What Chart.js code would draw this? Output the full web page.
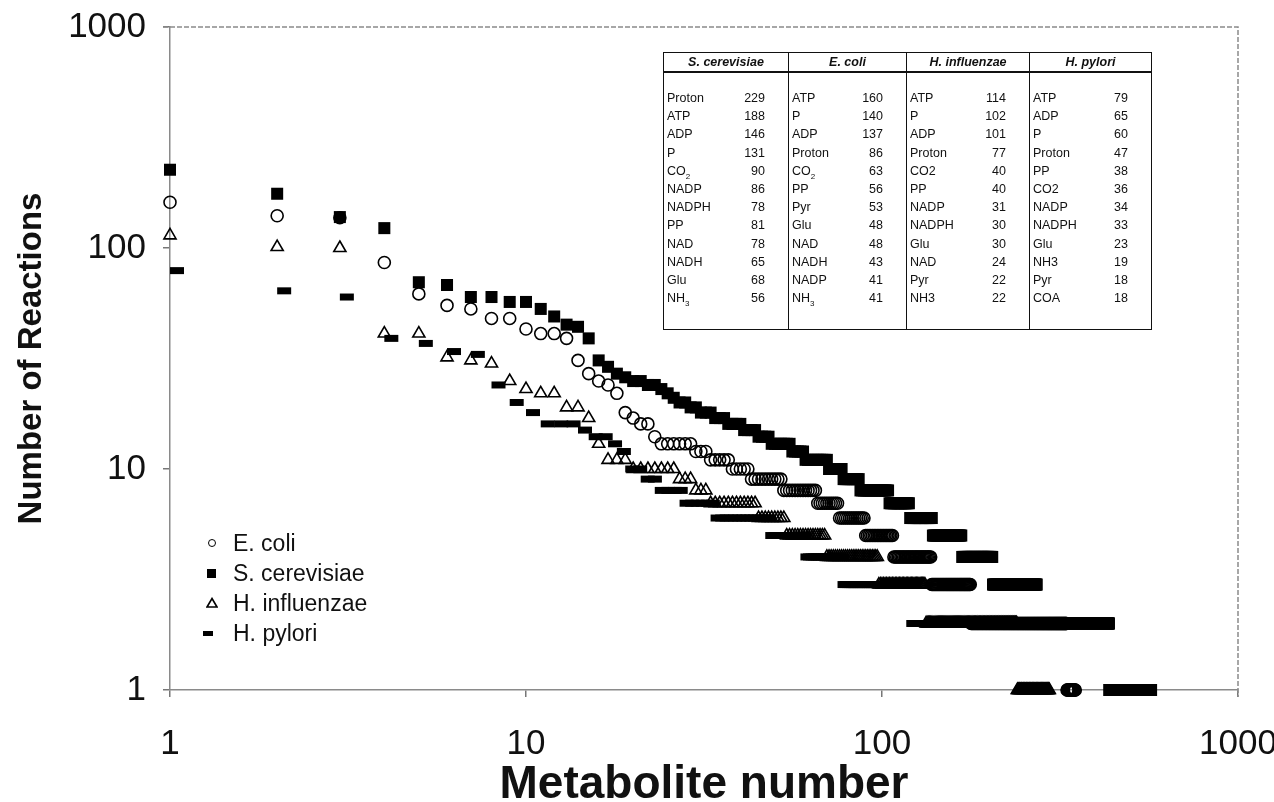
<!DOCTYPE html>
<html>
<head>
<meta charset="utf-8">
<title>Metabolite rank plot</title>
<script src="https://cdn.jsdelivr.net/npm/chart.js@4.4.0/dist/chart.umd.min.js"></script>
<style>
  body { margin: 0; background: #fff; font-family: "Liberation Sans", Arial, sans-serif; }
  #wrap { position: relative; width: 1274px; height: 802px; }
  #chart { position: absolute; left: 0; top: 0; }
  #legend { position: absolute; left: 200px; top: 528px; font-size: 23px; color: #111; }
  #legend .row { position: relative; height: 30px; line-height: 30px; padding-left: 33px; white-space: nowrap; }
  #legend .mk { position: absolute; }
  #legend .circle { left: 8px; top: 11px; width: 6px; height: 6px; border: 1.6px solid #000; border-radius: 50%; }
  #legend .square { left: 7px; top: 11px; width: 9px; height: 9px; background: #000; }
  #legend .tri { left: 6px; top: 9px; }
  #legend .dash { left: 3px; top: 13px; width: 10px; height: 5px; background: #000; }
  #table { position: absolute; left: 663px; top: 52px; width: 489px; height: 278px;
           border: 1.5px solid #111; box-sizing: border-box; font-size: 12.5px; color: #111; }
  #table .col { position: absolute; top: 0; bottom: 0; box-sizing: border-box; }
  #table .col + .col { border-left: 1.5px solid #111; }
  #table .head { height: 18px; line-height: 18px; text-align: center; font-weight: bold; font-style: italic;
                 border-bottom: 2.5px solid #111; }
  #table .body { padding-top: 16px; }
  #table .line { display: flex; justify-content: space-between; height: 18.2px; line-height: 18.2px;
                 padding: 0 23px 0 3px; }
  #table sub { font-size: 8px; line-height: 0; }
</style>
</head>
<body>
<div id="wrap">
  <canvas id="chart" width="1274" height="802"></canvas>
  <div id="table"></div>
  <div id="legend"></div>
</div>
<script>
// axis ticks
const xTicks = [1, 10, 100, 1000];
const yTicks = [1, 10, 100, 1000];

// rank plots: first ranks one by one, then runs of equal values (value, how many ranks)
const ecoliHead = [161, 140, 137, 86, 62, 55, 53, 48, 48, 43, 41, 41, 39, 31, 27, 25, 24, 22, 18, 17, 16, 16, 14];
const ecoliLevels = [13, 12, 11, 10, 9, 8, 7, 6, 5, 4, 3, 2, 1];
const ecoliCounts = [6, 3, 5, 5, 10, 13, 10, 14, 18, 30, 40, 153, 19];

const scerHead = [226, 176, 138, 123, 70, 68, 60, 60, 57, 57, 53, 49, 45, 44, 39, 31, 29, 27, 26, 25,
                  25, 24, 24, 23, 22, 21, 20, 20, 19, 19];
const scerLevels = [18, 17, 16, 15, 14, 13, 12, 11, 10, 9, 8, 7, 6, 5, 4, 3, 2, 1];
const scerCounts = [3, 3, 4, 4, 4, 7, 5, 10, 7, 9, 18, 15, 19, 29, 37, 68, 162, 136];

const hinfHead = [114, 101, 100, 41, 41, 32, 31, 30, 25, 23, 22, 22, 19, 19, 17, 13];
const hinfLevels = [11, 10, 9, 8, 7, 6, 5, 4, 3, 2, 1];
const hinfCounts = [3, 7, 3, 3, 12, 9, 16, 28, 35, 107, 56];

const hpylHead = [79, 64, 60, 39, 37, 34, 33, 24, 20, 18, 16, 16, 16, 15, 14, 14, 13, 12];
const hpylLevels = [10, 9, 8, 7, 6, 5, 4, 3, 2];
const hpylCounts = [2, 2, 4, 6, 14, 12, 16, 42, 120];

// inset table
const tableSpecies = ['S. cerevisiae', 'E. coli', 'H. influenzae', 'H. pylori'];
const tableNames = [
  ['Proton', 'ATP', 'ADP', 'P', 'CO<sub>2</sub>', 'NADP', 'NADPH', 'PP', 'NAD', 'NADH', 'Glu', 'NH<sub>3</sub>'],
  ['ATP', 'P', 'ADP', 'Proton', 'CO<sub>2</sub>', 'PP', 'Pyr', 'Glu', 'NAD', 'NADH', 'NADP', 'NH<sub>3</sub>'],
  ['ATP', 'P', 'ADP', 'Proton', 'CO2', 'PP', 'NADP', 'NADPH', 'Glu', 'NAD', 'Pyr', 'NH3'],
  ['ATP', 'ADP', 'P', 'Proton', 'PP', 'CO2', 'NADP', 'NADPH', 'Glu', 'NH3', 'Pyr', 'COA']
];
const tableCounts = [
  [229, 188, 146, 131, 90, 86, 78, 81, 78, 65, 68, 56],
  [160, 140, 137, 86, 63, 56, 53, 48, 48, 43, 41, 41],
  [114, 102, 101, 77, 40, 40, 31, 30, 30, 24, 22, 22],
  [79, 65, 60, 47, 38, 36, 34, 33, 23, 19, 18, 18]
];

function rankPoints(head, levels, counts) {
  const pts = head.map((v, i) => ({ x: i + 1, y: v }));
  let r = head.length;
  levels.forEach((v, i) => {
    for (let k = 0; k < counts[i]; k++) {
      r++;
      pts.push({ x: r, y: v });
    }
  });
  return pts;
}

// table
const colLeft = [0, 124, 242, 365];
const colWidth = [124, 118, 123, 122];
const tableEl = document.getElementById('table');
tableSpecies.forEach((sp, c) => {
  const col = document.createElement('div');
  col.className = 'col';
  col.style.left = colLeft[c] + 'px';
  col.style.width = colWidth[c] + 'px';
  let html = '<div class="head">' + sp + '</div><div class="body">';
  tableNames[c].forEach((n, i) => {
    html += '<div class="line"><span>' + n + '</span><span>' + tableCounts[c][i] + '</span></div>';
  });
  col.innerHTML = html + '</div>';
  tableEl.appendChild(col);
});

// legend
const legendItems = [
  ['circle', 'E. coli'],
  ['square', 'S. cerevisiae'],
  ['tri', 'H. influenzae'],
  ['dash', 'H. pylori']
];
const legendEl = document.getElementById('legend');
legendItems.forEach(([kind, label]) => {
  const row = document.createElement('div');
  row.className = 'row';
  const mk = kind === 'tri'
    ? '<svg class="mk tri" width="12" height="11"><polygon points="6,1.5 11,10 1,10" fill="none" stroke="#000" stroke-width="1.6"/></svg>'
    : '<span class="mk ' + kind + '"></span>';
  row.innerHTML = mk + label;
  legendEl.appendChild(row);
});

const plotFrame = {
  id: 'plotFrame',
  beforeDatasetsDraw(chart) {
    const { ctx, chartArea: a } = chart;
    ctx.save();
    ctx.strokeStyle = '#8a8a8a';
    ctx.lineWidth = 1.5;
    ctx.setLineDash([5, 2]);
    ctx.beginPath();
    ctx.moveTo(a.left - 7, a.top);
    ctx.lineTo(a.right, a.top);
    ctx.lineTo(a.right, a.bottom + 7);
    ctx.stroke();
    ctx.restore();
  }
};

const family = '"Liberation Sans", Arial, sans-serif';

new Chart(document.getElementById('chart'), {
  type: 'scatter',
  data: {
    datasets: [
      {
        label: 'E. coli', order: 4, clip: false,
        data: rankPoints(ecoliHead, ecoliLevels, ecoliCounts),
        pointStyle: 'circle', pointRadius: 6, pointBorderWidth: 1.6,
        borderColor: '#000', backgroundColor: 'rgba(0,0,0,0)'
      },
      {
        label: 'S. cerevisiae', order: 3, clip: false,
        data: rankPoints(scerHead, scerLevels, scerCounts),
        pointStyle: 'rect', pointRadius: 8.5, pointBorderWidth: 0,
        borderColor: '#000', backgroundColor: '#000'
      },
      {
        label: 'H. influenzae', order: 2, clip: false,
        data: rankPoints(hinfHead, hinfLevels, hinfCounts),
        pointStyle: 'triangle', pointRadius: 7, pointBorderWidth: 1.6,
        borderColor: '#000', backgroundColor: 'rgba(0,0,0,0)'
      },
      {
        label: 'H. pylori', order: 1, clip: false,
        data: rankPoints(hpylHead, hpylLevels, hpylCounts),
        pointStyle: 'dash', pointRadius: 14, pointBorderWidth: 7,
        borderColor: '#000', backgroundColor: '#000'
      }
    ]
  },
  options: {
    responsive: false,
    animation: false,
    layout: { padding: { top: 27, right: 36, left: 0, bottom: 0 } },
    plugins: {
      legend: { display: false },
      tooltip: { enabled: false }
    },
    scales: {
      x: {
        type: 'logarithmic', min: 1, max: 1000,
        afterBuildTicks: s => { s.ticks = xTicks.map(v => ({ value: v })); },
        afterFit: s => { s.height = 112; s.paddingLeft = 0; s.paddingRight = 0; },
        ticks: { font: { size: 35, family }, color: '#111', padding: 26, maxRotation: 0, autoSkip: false,
                 callback: v => String(v) },
        grid: { drawOnChartArea: false, tickLength: 7, color: '#777', lineWidth: 1.5 },
        border: { color: '#8a8a8a', width: 1.5 },
        title: { display: true, text: 'Metabolite number', color: '#111', padding: { top: 0, bottom: -6 },
                 font: { size: 46, weight: 'bold', family, lineHeight: 1 } }
      },
      y: {
        type: 'logarithmic', min: 1, max: 1000,
        afterBuildTicks: s => { s.ticks = yTicks.map(v => ({ value: v })); },
        afterFit: s => { s.width = 170; s.paddingTop = 0; s.paddingBottom = 0; },
        ticks: { font: { size: 35, family }, color: '#111', padding: 17, autoSkip: false,
                 callback: v => String(v) },
        grid: { drawOnChartArea: false, tickLength: 7, color: '#777', lineWidth: 1.5 },
        border: { color: '#8a8a8a', width: 1.5 },
        title: { display: true, text: 'Number of Reactions', color: '#111', padding: { top: 12, bottom: 0 },
                 font: { size: 33, weight: 'bold', family } }
      }
    }
  },
  plugins: [plotFrame]
});
</script>
</body>
</html>
